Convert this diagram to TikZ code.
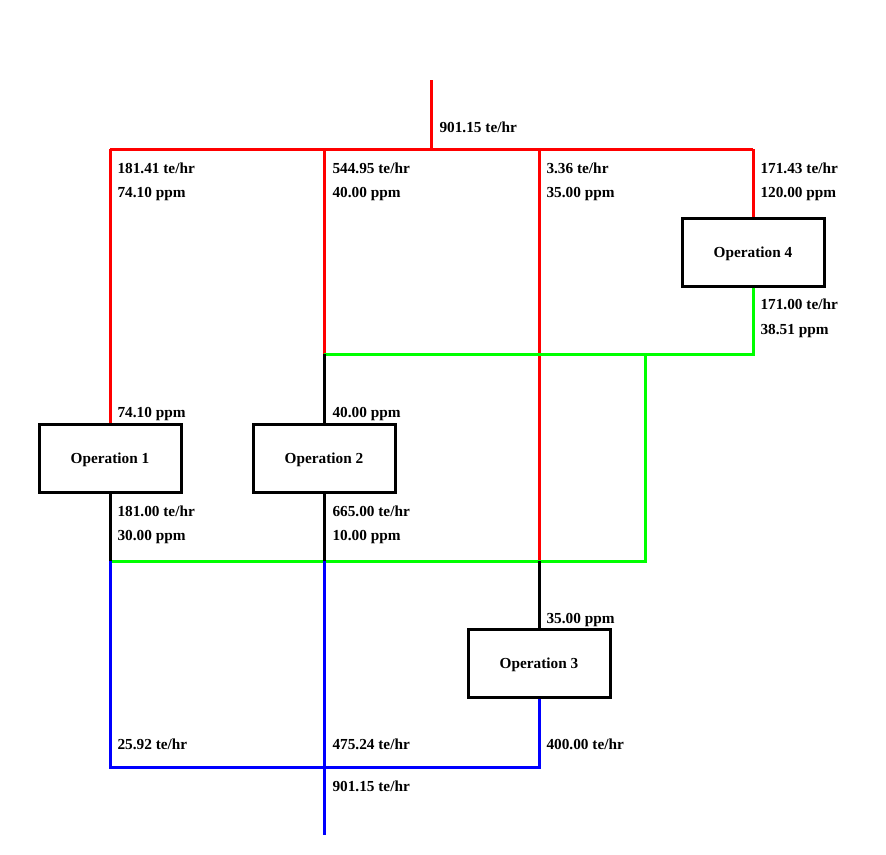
\documentclass[tikz,border=0pt]{standalone}
\usepackage{fontspec}
\setmainfont{Liberation Serif}
\begin{document}
\begin{tikzpicture}[x=1pt,y=-1pt,line width=3pt,
  op/.style={draw=black,fill=white,minimum width=142pt,minimum height=68pt,inner sep=0pt,text depth=0pt,font=\bfseries\fontsize{15.3}{18}\selectfont},
  lbl/.style={anchor=west,inner sep=0pt,font=\bfseries\fontsize{15.3}{18}\selectfont}]
\useasboundingbox (0,0) rectangle (886,854);
% operations
\node[op] (op1) at (110,458) {Operation 1};
\node[op] (op2) at (324,458) {Operation 2};
\node[op] (op3) at (539,663) {Operation 3};
\node[op] (op4) at (753,252) {Operation 4};
% junctions
\coordinate (in) at (431,80);
\coordinate (sp) at (431,149);
\coordinate (r1) at (110,149);
\coordinate (r2) at (324,149);
\coordinate (r3) at (539,149);
\coordinate (r4) at (753,149);
\coordinate (g2) at (324,354);
\coordinate (g4) at (753,354);
\coordinate (g5) at (645,354);
\coordinate (m1) at (110,561);
\coordinate (m2) at (324,561);
\coordinate (m3) at (539,561);
\coordinate (m5) at (645,561);
\coordinate (b1) at (110,767);
\coordinate (b3) at (539,767);
\coordinate (out) at (324,835);
% fresh water
\draw [red] (in) -- (sp);
\draw [red] (r1) -- (r4);
\draw [red] (r1) -- (op1.north);
\draw [red] (r2) -- (g2);
\draw [red] (r3) -- (m3);
\draw [red] (r4) -- (op4.north);
% reuse
\draw [green] (op4.south) -- (g4) -- (g2);
\draw [green] (g5) -- (m5) -- (m1);
\draw [black] (g2) -- (op2.north);
\draw [black] (m3) -- (op3.north);
\draw [black] (op1.south) -- (m1);
\draw [black] (op2.south) -- (m2);
% effluent
\draw [blue] (m1) -- (b1) -- (b3) -- (op3.south);
\draw [blue] (m2) -- (out);
% labels
\node[lbl] (f0) at (438,127) {901.15 te/hr};
\node[lbl] (f1) at (116,168) {181.41 te/hr};
\node[lbl] (c1) at (116,194) {74.10 ppm};
\node[lbl] (f2) at (331,168) {544.95 te/hr};
\node[lbl] (c2) at (331,194) {40.00 ppm};
\node[lbl] (f3) at (545,168) {3.36 te/hr};
\node[lbl] (c3) at (545,194) {35.00 ppm};
\node[lbl] (f4) at (759,168) {171.43 te/hr};
\node[lbl] (c4) at (759,194) {120.00 ppm};
\node[lbl] (f4o) at (759,304) {171.00 te/hr};
\node[lbl] (c4o) at (759,331) {38.51 ppm};
\node[lbl] (c1i) at (116,414) {74.10 ppm};
\node[lbl] (c2i) at (331,414) {40.00 ppm};
\node[lbl] (f1o) at (116,511) {181.00 te/hr};
\node[lbl] (c1o) at (116,537) {30.00 ppm};
\node[lbl] (f2o) at (331,511) {665.00 te/hr};
\node[lbl] (c2o) at (331,537) {10.00 ppm};
\node[lbl] (c3i) at (545,620) {35.00 ppm};
\node[lbl] (fb1) at (116,744) {25.92 te/hr};
\node[lbl] (fb2) at (331,744) {475.24 te/hr};
\node[lbl] (fb3) at (545,744) {400.00 te/hr};
\node[lbl] (fout) at (331,786) {901.15 te/hr};
\end{tikzpicture}
\end{document}
